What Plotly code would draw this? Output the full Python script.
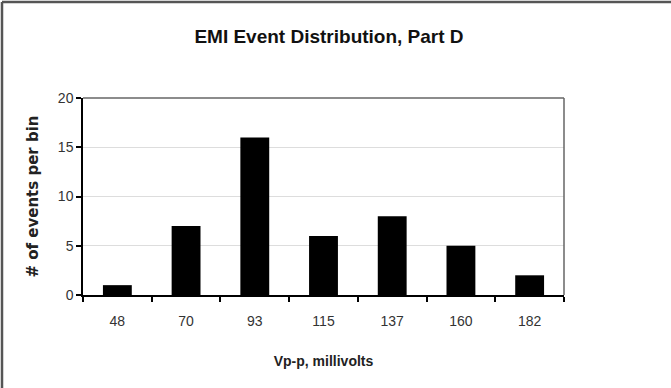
import plotly.graph_objects as go

categories = ["48", "70", "93", "115", "137", "160", "182"]
counts = [1, 7, 16, 6, 8, 5, 2]
y_ticks = [0, 5, 10, 15, 20]

W, H = 671, 388
L, R, T, B = 83, 564, 98, 295

fig = go.Figure(go.Bar(
    x=categories, y=counts,
    marker=dict(color="black", line=dict(width=0)),
    width=0.42,
))

font_main = "Liberation Sans, Arial, sans-serif"

pw, ph = R - L, B - T
def px_to_paper_x(px):
    return (px - L) / pw
def px_to_paper_y(py):
    return (B - py) / ph

fig.update_layout(
    width=W, height=H,
    margin=dict(l=L, r=W - R, t=T, b=H - B),
    paper_bgcolor="white", plot_bgcolor="white",
    showlegend=False,
    title=dict(text="<b>EMI Event Distribution, Part D</b>", x=329 / W, xanchor="center",
               y=1 - 36 / H, yanchor="middle",
               font=dict(family=font_main, size=19, color="#111")),
    xaxis=dict(
        type="category", tickson="boundaries", ticks="outside", ticklen=5,
        tickcolor="black", tickwidth=1.5,
        showline=True, linecolor="black", linewidth=1.5,
        showgrid=False, ticklabelstandoff=12,
        tickfont=dict(family=font_main, size=14, color="#333"),
        title=dict(text="<b>Vp-p, millivolts</b>", standoff=29,
                   font=dict(family=font_main, size=14, color="#222")),
    ),
    yaxis=dict(
        range=[0, 20], tickvals=y_ticks, ticks="outside", ticklen=5,
        tickcolor="black", tickwidth=1.5,
        showline=True, linecolor="black", linewidth=1.5,
        showgrid=True, gridcolor="#dddddd", gridwidth=1,
        zeroline=False,
        tickfont=dict(family=font_main, size=14, color="#333"),
        title=dict(text="<b># of events per bin</b>", standoff=16,
                   font=dict(family="DejaVu Sans, sans-serif", size=15, color="#222")),
    ),
    shapes=[
        dict(type="line", xref="paper", yref="paper", x0=0, x1=1, y0=1, y1=1,
             line=dict(color="#666", width=1.5)),
        dict(type="line", xref="paper", yref="paper", x0=1, x1=1, y0=0, y1=1,
             line=dict(color="#666", width=1.5)),
        dict(type="line", xref="paper", yref="paper",
             x0=px_to_paper_x(2), x1=px_to_paper_x(2),
             y0=px_to_paper_y(2), y1=px_to_paper_y(H + 5),
             line=dict(color="#555", width=2.5)),
        dict(type="line", xref="paper", yref="paper",
             x0=px_to_paper_x(2), x1=px_to_paper_x(W + 5),
             y0=px_to_paper_y(2), y1=px_to_paper_y(2),
             line=dict(color="#555", width=2.5)),
    ],
)

fig.write_html("out.html")
